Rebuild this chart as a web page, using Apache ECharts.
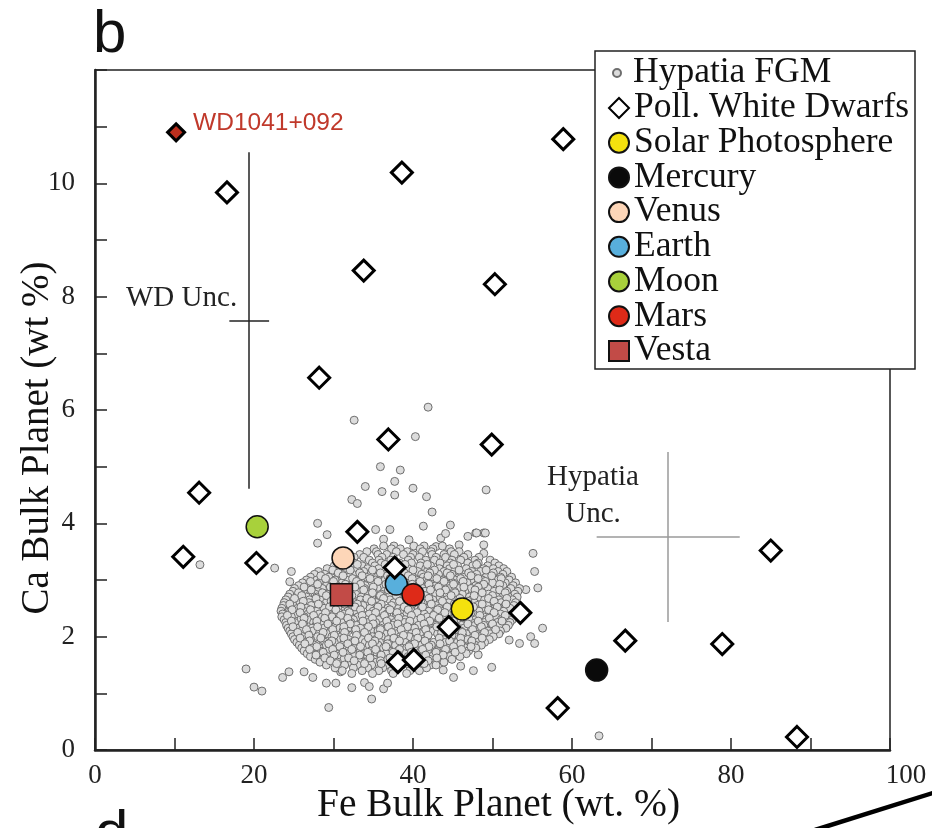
<!DOCTYPE html>
<html lang="en">
<head>
    <meta http-equiv="Content-Type" content="text/html; charset=utf-8"/>
    <title>Ca vs Fe bulk planet</title>
    <script src="https://cdn.jsdelivr.net/npm/echarts@6/dist/echarts.min.js"></script>
</head>
<body style="margin:0;background:#fff;">
<style>
    #chart {
        width: 932px;
        height: 828px;
    }
</style>
<div id="chart"></div>
<script type="text/javascript">

  // Hypatia FGM stars, scattered points around the cloud [Fe, Ca]
  var hypatiaOuter = [
    [41.9, 6.05], [32.6, 5.82], [40.3, 5.53], [35.9, 5.0], [38.4, 4.94], [37.7, 4.74], [34.0, 4.65],
    [36.1, 4.56], [37.7, 4.5], [40.0, 4.62], [41.7, 4.47], [42.4, 4.2], [32.3, 4.42], [33.0, 4.35],
    [49.2, 4.59], [28.0, 4.0], [29.2, 3.8], [28.0, 3.65], [41.3, 3.95], [44.7, 3.97], [35.3, 3.89],
    [37.1, 3.89], [36.3, 3.72], [39.5, 3.71], [43.5, 3.74], [44.1, 3.82], [46.9, 3.77], [47.9, 3.83],
    [48.9, 3.83], [48.9, 3.62], [48.9, 3.47], [45.8, 3.62], [42.9, 3.59], [55.1, 3.47], [55.3, 3.15],
    [55.7, 2.86], [54.2, 2.83], [22.6, 3.21], [24.7, 3.15], [24.5, 2.97], [56.3, 2.15], [54.8, 2.0],
    [55.3, 1.88], [53.4, 1.88], [52.1, 1.94], [49.9, 1.46], [47.6, 1.4], [46.0, 1.48], [45.1, 1.28],
    [43.8, 1.41], [48.2, 1.68], [19.0, 1.43], [20.0, 1.11], [21.0, 1.04], [23.6, 1.28], [24.4, 1.38],
    [26.3, 1.38], [27.4, 1.28], [29.1, 1.18], [30.3, 1.18], [32.3, 1.1], [33.9, 1.19], [34.5, 1.12],
    [34.8, 0.9], [36.3, 1.08], [36.8, 1.18], [29.4, 0.75], [30.9, 1.38], [13.2, 3.27], [63.4, 0.25],
    [49.7, 3.22], [49.8, 3.06], [49.1, 3.83], [48.0, 3.83]
  ];

  // dense part of the cloud, one row per Ca level: [Ca, 'Fe Fe Fe ...']
  var hypatiaRows = [
    [3.60, '36.3 37.6 40.1 41.4 43.7'],
    [3.55, '35.1 37.3 38.4 40.9 42.5 44.6'],
    [3.50, '34.2 35.4 37.9 39.3 41.2 42.3 44.8 45.8'],
    [3.45, '33.3 35.6 36.7 38.8 40.0 42.4 43.9 45.2 46.9'],
    [3.40, '32.6 33.8 36.1 37.5 39.7 40.8 42.9 44.1 46.4 48.3'],
    [3.35, '32.1 34.5 35.7 37.2 39.4 41.6 42.7 44.9 46.0 47.8 49.7'],
    [3.30, '31.2 32.6 34.9 36.0 38.3 39.8 41.0 43.4 44.7 46.9 48.2 50.3'],
    [3.25, '30.1 32.3 33.6 35.2 37.6 38.7 40.9 42.2 44.3 45.6 47.5 49.4 50.8'],
    [3.20, '29.2 30.6 32.9 34.3 35.7 38.1 39.4 41.6 43.3 44.6 46.7 48.9 50.1 51.4'],
    [3.15, '28.1 30.3 31.5 33.8 35.0 36.9 38.4 40.6 41.8 43.9 45.2 47.4 48.5 50.7 51.8'],
    [3.10, '27.6 28.9 31.1 32.4 34.7 36.3 37.6 39.8 41.1 43.2 44.9 46.2 48.0 49.8 51.3'],
    [3.05, '27.1 29.4 30.6 32.0 34.1 35.5 37.8 38.9 41.3 42.6 44.2 46.5 47.6 49.2 51.0 52.4'],
    [3.00, '26.6 27.9 30.2 31.6 33.2 35.3 36.5 38.5 40.4 41.7 43.8 45.3 47.3 48.7 50.6 52.1'],
    [2.95, '26.1 28.2 29.5 31.1 33.5 34.7 36.9 38.1 39.6 41.9 43.2 45.0 46.8 48.4 50.0 51.6 52.9'],
    [2.90, '25.6 26.9 29.1 30.4 32.6 34.0 36.1 37.4 39.3 40.7 42.9 44.3 46.1 47.9 49.1 51.3 52.6'],
    [2.85, '25.1 27.4 28.6 30.7 32.1 33.9 35.5 37.7 38.8 41.2 42.3 44.6 45.7 47.3 49.4 50.6 52.3 53.4'],
    [2.80, '24.9 26.2 28.1 29.8 31.4 33.0 35.0 36.4 38.3 40.0 41.5 43.6 45.2 46.5 48.6 50.2 51.8 53.2'],
    [2.75, '24.5 25.9 27.7 29.3 30.9 32.8 34.2 36.0 37.3 39.6 40.9 42.8 44.0 46.2 47.8 49.5 51.2 52.8'],
    [2.70, '24.3 26.6 27.9 30.0 31.3 33.5 34.8 37.0 38.2 40.5 42.0 43.4 45.6 47.1 48.3 50.5 52.0 53.1'],
    [2.65, '24.0 25.3 27.0 28.5 30.5 32.2 33.4 35.8 37.1 39.1 40.3 42.5 44.2 45.4 47.4 49.0 50.8 52.5'],
    [2.60, '23.8 25.8 26.9 29.1 30.3 32.6 34.0 35.4 37.6 38.8 41.0 42.2 44.5 45.8 47.7 49.6 51.1 52.9'],
    [2.55, '23.7 24.9 27.2 28.4 30.8 32.0 33.7 35.1 37.3 39.4 40.7 42.9 44.0 46.3 48.1 49.3 51.6 52.7'],
    [2.50, '23.5 25.5 26.6 28.8 29.9 31.5 33.2 34.6 36.8 38.2 40.1 41.6 43.3 45.0 46.8 48.6 50.3 52.2'],
    [2.45, '23.4 24.6 26.2 27.9 29.6 31.8 32.9 35.0 36.2 38.6 39.8 42.0 43.6 44.9 47.1 48.3 50.1 51.4 53.0'],
    [2.40, '23.6 25.2 26.8 28.2 30.1 31.3 33.6 34.5 36.7 37.9 39.2 41.4 42.7 44.3 46.0 47.6 49.7 51.0 52.8'],
    [2.35, '23.5 24.7 26.3 28.6 29.8 32.1 33.1 35.4 36.5 38.4 40.6 41.8 43.9 45.3 46.6 48.9 50.4 52.4'],
    [2.30, '23.8 25.9 27.1 29.0 30.6 32.5 34.1 35.7 37.2 39.0 40.3 42.4 44.6 45.9 47.9 49.2 51.1 52.5'],
    [2.25, '24.0 25.1 27.5 28.6 31.0 32.2 34.4 35.3 37.7 38.9 41.1 42.3 44.0 45.6 47.3 49.0 50.6 52.2'],
    [2.20, '24.1 26.3 27.8 29.4 30.3 32.9 33.8 36.2 37.4 39.5 40.7 42.9 44.3 46.1 47.8 48.9 50.9 52.0'],
    [2.15, '24.3 25.6 27.3 28.8 30.8 31.9 33.4 35.9 36.8 38.7 40.2 41.6 43.7 45.1 46.4 48.4 49.9 51.7'],
    [2.10, '24.5 26.0 27.4 29.7 31.2 32.7 34.7 35.6 38.0 39.1 41.4 42.5 44.8 46.0 47.5 49.4 51.0'],
    [2.05, '24.7 26.8 28.2 29.3 31.6 33.0 34.2 36.4 37.9 39.8 40.9 43.1 44.4 46.7 47.9 49.7 50.8'],
    [2.00, '24.9 26.1 28.0 29.8 31.0 33.3 34.9 36.0 38.4 39.5 41.7 43.5 45.2 46.3 48.5 50.1'],
    [1.95, '25.1 27.1 28.6 30.5 31.9 33.6 35.3 36.9 38.1 40.3 41.2 43.8 44.9 46.9 48.1 49.6'],
    [1.90, '25.4 26.5 28.9 30.1 32.4 34.0 35.8 37.4 39.0 40.8 42.6 44.1 45.6 47.3 49.0'],
    [1.85, '25.7 27.6 29.1 31.1 32.8 34.5 35.6 37.8 39.6 41.1 42.3 44.7 46.2 47.8 48.6'],
    [1.80, '26.0 27.3 29.7 31.5 32.5 35.0 36.3 38.5 39.2 41.6 43.3 44.5 46.6 47.9'],
    [1.75, '26.3 28.3 29.4 31.9 33.4 34.7 37.0 38.1 40.2 41.9 43.0 45.3 47.0'],
    [1.70, '26.7 28.0 30.3 31.6 33.9 35.5 36.6 38.9 40.5 42.7 44.0 45.7 46.7'],
    [1.65, '27.1 29.2 30.6 32.6 34.3 35.9 37.7 39.4 41.3 42.4 44.6 45.9'],
    [1.60, '27.7 29.8 31.3 33.2 35.1 36.8 38.3 40.0 42.1 43.6 44.9'],
    [1.55, '28.3 30.5 32.0 34.0 35.4 37.6 39.7 41.0 42.8 43.9'],
    [1.50, '29.1 31.4 33.0 34.8 36.9 38.6 40.5 42.2 42.9'],
    [1.45, '30.2 32.5 34.3 36.2 38.0 40.1 41.7'],
    [1.40, '31.1 33.6 35.7 37.3 39.6 40.8'],
    [1.35, '32.3 34.9 37.5 39.2']
  ];

  // extra stars filling the crowded centre of the cloud
  var hypatiaRowsInner = [
    [3.275, '33.0 36.5 39.0 41.8 45.1 48.0'],
    [3.175, '29.9 32.1 34.9 37.3 40.0 42.7 45.8 49.2'],
    [3.125, '30.6 33.3 35.9 38.9 42.1 44.3 47.0 50.1'],
    [3.075, '28.4 31.2 33.6 36.8 39.4 41.9 44.7 47.3 49.9'],
    [3.025, '29.0 32.4 34.6 37.1 39.9 43.0 46.0 48.2 51.1'],
    [2.975, '27.1 30.0 32.9 35.6 38.6 40.9 43.9 46.3 49.1'],
    [2.925, '28.0 31.5 33.4 36.6 39.9 42.0 45.1 48.9 50.9'],
    [2.875, '26.3 29.6 32.7 35.0 37.1 40.1 43.2 46.4 48.2'],
    [2.825, '27.2 30.2 33.8 36.9 39.1 42.2 44.1 47.8 50.9'],
    [2.775, '25.6 28.6 31.6 34.9 38.1 40.3 43.4 45.3 48.7 51.6'],
    [2.725, '26.0 29.1 32.3 35.9 37.9 41.5 44.8 47.7 50.0'],
    [2.675, '25.1 27.8 31.0 34.2 36.3 39.7 42.0 45.9 49.5 51.8'],
    [2.625, '26.2 29.7 32.0 34.8 38.3 40.6 43.7 46.9 50.2'],
    [2.575, '24.5 28.1 31.4 33.0 36.0 39.9 42.3 45.2 48.7 51.7'],
    [2.525, '25.9 29.5 32.7 35.6 38.9 41.2 44.3 47.6 50.6'],
    [2.475, '24.8 27.1 30.3 33.4 37.1 39.4 43.1 45.7 49.5'],
    [2.425, '25.8 29.0 32.0 35.3 38.0 40.5 44.0 47.3 50.2'],
    [2.375, '24.2 27.5 30.9 33.6 36.4 39.8 42.6 45.9 48.4 51.6'],
    [2.325, '26.3 28.9 31.8 34.9 38.2 41.0 43.3 47.0 49.6'],
    [2.275, '24.7 27.9 30.4 33.7 36.7 39.6 42.1 45.1 48.2 51.2'],
    [2.225, '26.1 29.3 32.1 35.0 38.1 41.4 44.2 46.9 50.0'],
    [2.175, '24.9 28.0 31.3 34.4 36.9 39.3 43.0 45.5 48.6'],
    [2.125, '26.6 29.9 32.8 35.9 38.5 41.6 44.5 47.5 50.4'],
    [2.075, '25.5 28.7 31.4 33.9 37.3 40.4 43.6 46.2 49.0'],
    [2.025, '26.9 30.1 32.9 35.7 38.8 41.9 44.9 47.8'],
    [1.975, '25.8 28.4 31.3 34.4 37.6 40.6 43.3 46.0 48.7'],
    [1.925, '27.0 29.8 32.7 35.2 38.3 41.5 44.6 47.4'],
    [1.875, '26.4 29.4 31.8 34.9 36.8 40.2 43.4 46.0'],
    [1.825, '27.9 30.8 33.4 36.6 39.5 42.0 45.1 47.3'],
    [1.775, '27.0 29.9 32.3 35.3 38.3 41.2 44.1 46.1'],
    [1.725, '28.7 31.2 34.3 37.5 39.8 42.9 45.3'],
    [1.675, '27.8 30.1 33.3 36.0 38.2 41.6 43.8'],
    [1.625, '28.9 31.9 34.6 37.1 40.6 43.0'],
    [1.575, '29.6 32.6 35.9 38.8 41.9'],
    [1.525, '30.4 33.9 36.0 39.3 41.4']
  ];

  // polluted white dwarfs
  var wdFe = [16.6, 38.6, 58.9, 33.8, 50.3, 28.2, 36.9, 49.9, 13.1, 11.1, 20.3, 33.0, 37.7, 44.5,
    53.5, 38.1, 40.1, 58.2, 66.7, 78.9, 85.0, 88.3];
  var wdCa = [9.84, 10.19, 10.78, 8.46, 8.22, 6.57, 5.48, 5.39, 4.54, 3.41, 3.30, 3.85, 3.22, 2.17,
    2.42, 1.55, 1.59, 0.74, 1.93, 1.87, 3.52, 0.23];
  var wd1041 = [10.2, 10.9];

  // solar system bodies
  var bodyNames = ['Solar Photosphere', 'Mercury', 'Venus', 'Earth', 'Moon', 'Mars', 'Vesta'];
  var bodyFe = [46.2, 63.1, 31.2, 37.9, 20.4, 40.0, 31.0];
  var bodyCa = [2.49, 1.41, 3.39, 2.93, 3.94, 2.74, 2.74];
  var bodyColors = ['#f4e10e', '#0a0a0a', '#fdd6b8', '#58afdc', '#a8d13b', '#de2a18', '#c24b47'];

  // uncertainty crosses: [Fe, Ca, +-Fe, +-Ca]
  var wdUnc = [19.4, 7.58, 2.5, 2.97];
  var hypUnc = [72.1, 3.76, 9.0, 1.5];

  var SERIF = 'Liberation Serif';
  var SANS = 'Liberation Sans';

  var hypatiaData = hypatiaOuter.slice();
  hypatiaRows.concat(hypatiaRowsInner).forEach(function (row) {
    row[1].split(' ').forEach(function (fe) {
      hypatiaData.push([parseFloat(fe), row[0]]);
    });
  });

  var wdData = wdFe.map(function (fe, i) {
    return [fe, wdCa[i]];
  });
  wdData.push({
    value: wd1041,
    symbolSize: 17,
    itemStyle: {color: '#bb2f1e'},
    label: {
      show: true,
      position: 'right',
      offset: [2, -9],
      formatter: 'WD1041+092',
      color: '#c0392b',
      fontSize: 24.5,
      fontFamily: SANS
    }
  });

  function crossCoords(u) {
    return [
      {coords: [[u[0] - u[2], u[1]], [u[0] + u[2], u[1]]]},
      {coords: [[u[0], u[1] - u[3]], [u[0], u[1] + u[3]]]}
    ];
  }

  var series = [
    {
      name: 'WD Unc.',
      type: 'lines',
      coordinateSystem: 'cartesian2d',
      silent: true,
      z: 1,
      lineStyle: {color: '#222', width: 1.5, opacity: 1},
      data: crossCoords(wdUnc)
    },
    {
      name: 'Hypatia Unc.',
      type: 'lines',
      coordinateSystem: 'cartesian2d',
      silent: true,
      z: 1,
      lineStyle: {color: '#9a9a9a', width: 1.5, opacity: 1},
      data: crossCoords(hypUnc)
    },
    {
      name: 'Hypatia FGM',
      type: 'scatter',
      symbol: 'circle',
      symbolSize: 8,
      z: 2,
      itemStyle: {color: '#dcdcdc', borderColor: '#6e6e6e', borderWidth: 1, opacity: 1},
      data: hypatiaData
    }
  ];

  bodyNames.forEach(function (name, i) {
    series.push({
      name: name,
      type: 'scatter',
      symbol: name === 'Vesta' ? 'rect' : 'circle',
      symbolSize: 22,
      z: 3,
      itemStyle: {color: bodyColors[i], borderColor: '#111', borderWidth: 1.5, opacity: 1},
      data: [[bodyFe[i], bodyCa[i]]]
    });
  });

  series.push({
    name: 'Poll. White Dwarfs',
    type: 'scatter',
    symbol: 'diamond',
    symbolSize: 21,
    z: 4,
    itemStyle: {color: '#fff', borderColor: '#000', borderWidth: 3, opacity: 1},
    data: wdData
  });

  var chart = echarts.init(document.getElementById('chart'));

  var legendText = {fontFamily: SERIF, fontSize: 35.5, color: '#111', lineHeight: 34.4};

  chart.setOption({
    animation: false,
    backgroundColor: '#fff',
    grid: {
      left: 95, right: 42, top: 70, bottom: 78,
      outerBoundsMode: 'none',
      show: true, borderColor: '#222', borderWidth: 1.5, backgroundColor: 'transparent'
    },
    xAxis: {
      type: 'value',
      min: 0, max: 100, interval: 10,
      name: 'Fe Bulk Planet (wt. %)',
      nameLocation: 'middle',
      nameGap: 36,
      nameMoveOverlap: false,
      nameTextStyle: {fontFamily: SERIF, fontSize: 39.5, color: '#111', padding: [0, 0, 0, 12]},
      axisLine: {show: true, lineStyle: {color: '#222', width: 2.5}},
      axisTick: {show: true, inside: true, length: 12, lineStyle: {color: '#222', width: 1.5}},
      splitLine: {show: false},
      axisLabel: {
        margin: 12,
        fontFamily: SERIF, fontSize: 27, color: '#222',
        formatter: function (v) {
          if (v % 20 !== 0) return '';
          if (v === 100) return '{r|100}';
          return String(v);
        },
        rich: {r: {fontFamily: SERIF, fontSize: 27, color: '#222', padding: [0, 0, 0, 32]}}
      }
    },
    yAxis: {
      type: 'value',
      min: 0, max: 12, interval: 1,
      name: 'Ca Bulk Planet (wt %)',
      nameLocation: 'middle',
      nameGap: 38,
      nameMoveOverlap: false,
      nameTextStyle: {fontFamily: SERIF, fontSize: 39, color: '#111', padding: [0, 56, 0, 0]},
      axisLine: {show: true, lineStyle: {color: '#222', width: 2.5}},
      axisTick: {show: true, inside: true, length: 12, lineStyle: {color: '#222', width: 1.5}},
      splitLine: {show: false},
      axisLabel: {
        margin: 20,
        fontFamily: SERIF, fontSize: 27, color: '#222',
        formatter: function (v) {
          return (v % 2 === 0 && v !== 12) ? String(v) : '';
        }
      }
    },
    legend: [
      {
        data: ['Hypatia FGM'],
        orient: 'vertical',
        left: 612, top: 55,
        padding: 0,
        z: 6,
        itemWidth: 8, itemHeight: 8, itemGap: 0,
        selectedMode: false,
        textStyle: Object.assign({padding: [0, 0, 0, 7]}, legendText)
      },
      {
        data: ['Poll. White Dwarfs'].concat(bodyNames),
        orient: 'vertical',
        left: 608, top: 90,
        padding: 0,
        z: 6,
        itemWidth: 20, itemHeight: 20, itemGap: -1.3,
        selectedMode: false,
        textStyle: legendText
      }
    ],
    graphic: [
      {
        type: 'rect', z: 5,
        shape: {x: 595, y: 51, width: 320, height: 318},
        style: {fill: '#fff', stroke: '#222', lineWidth: 1.5}
      },
      {
        type: 'text', z: 5,
        style: {x: 93, y: 5, text: 'b', font: '60px "Liberation Sans"', fill: '#111', textVerticalAlign: 'top'}
      },
      {
        type: 'text', z: 5,
        style: {x: 95, y: 805, text: 'd', font: '60px "Liberation Sans"', fill: '#111', textVerticalAlign: 'top'}
      },
      {
        type: 'line', z: 5,
        shape: {x1: 815, y1: 830, x2: 936, y2: 792},
        style: {stroke: '#000', lineWidth: 4.5}
      },
      {
        type: 'text', z: 5,
        style: {x: 126, y: 298, text: 'WD Unc.', font: '29px "Liberation Serif"', fill: '#222', textVerticalAlign: 'middle'}
      },
      {
        type: 'text', z: 5,
        style: {x: 593, y: 477, text: 'Hypatia', font: '29px "Liberation Serif"', fill: '#222', textAlign: 'center', textVerticalAlign: 'middle'}
      },
      {
        type: 'text', z: 5,
        style: {x: 593, y: 514, text: 'Unc.', font: '29px "Liberation Serif"', fill: '#222', textAlign: 'center', textVerticalAlign: 'middle'}
      }
    ],
    series: series
  });
</script>
</body>
</html>
